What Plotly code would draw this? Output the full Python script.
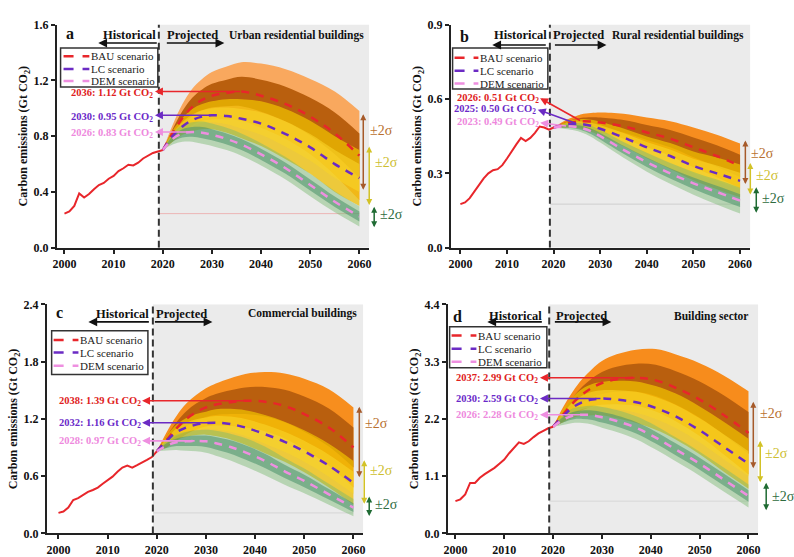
import plotly.graph_objects as go

W, H = 794, 557
SERIF = "Liberation Serif"

# ---------------- data ----------------
hist_years = list(range(2000, 2020))

# Panel a: urban residential buildings
hist_a = [0.245, 0.26, 0.30, 0.39, 0.36, 0.385, 0.42, 0.45, 0.465, 0.495,
          0.515, 0.55, 0.57, 0.595, 0.59, 0.61, 0.64, 0.66, 0.68, 0.69]
yrs_a = [2020, 2022, 2024, 2026, 2028, 2030, 2033, 2036, 2040, 2045, 2050, 2055, 2060]
bau_a = [0.70, 0.82, 0.93, 1.01, 1.06, 1.09, 1.11, 1.12, 1.09, 1.03, 0.94, 0.82, 0.66]
lc_a = [0.70, 0.80, 0.87, 0.915, 0.94, 0.95, 0.945, 0.925, 0.89, 0.815, 0.72, 0.60, 0.50]
dem_a = [0.70, 0.78, 0.82, 0.83, 0.825, 0.81, 0.78, 0.74, 0.67, 0.57, 0.45, 0.33, 0.225]
sd_bau_a = [0, 0.03, 0.05, 0.065, 0.075, 0.085, 0.095, 0.105, 0.115, 0.125, 0.135, 0.15, 0.16]
sd_lc_a = [0, 0.02, 0.03, 0.04, 0.045, 0.05, 0.06, 0.07, 0.08, 0.09, 0.095, 0.10, 0.10]
sd_dem_a = [0, 0.02, 0.03, 0.035, 0.04, 0.04, 0.04, 0.04, 0.04, 0.04, 0.04, 0.038, 0.036]

# Panel b: rural residential buildings
hist_b = [0.176, 0.183, 0.20, 0.228, 0.254, 0.28, 0.30, 0.313, 0.317, 0.333,
          0.36, 0.39, 0.417, 0.443, 0.43, 0.443, 0.463, 0.489, 0.485, 0.476]
yrs_b = [2020, 2023, 2025, 2026, 2028, 2030, 2035, 2040, 2045, 2050, 2055, 2060]
bau_b = [0.485, 0.502, 0.508, 0.51, 0.509, 0.505, 0.49, 0.465, 0.44, 0.405, 0.37, 0.33]
lc_b = [0.485, 0.497, 0.50, 0.499, 0.492, 0.48, 0.445, 0.405, 0.37, 0.33, 0.30, 0.27]
dem_b = [0.485, 0.49, 0.487, 0.483, 0.47, 0.45, 0.395, 0.345, 0.30, 0.26, 0.225, 0.19]
sd_bau_b = [0, 0.008, 0.012, 0.014, 0.017, 0.02, 0.025, 0.03, 0.035, 0.04, 0.043, 0.045]
sd_lc_b = [0, 0.006, 0.009, 0.01, 0.012, 0.014, 0.018, 0.022, 0.026, 0.029, 0.032, 0.033]
sd_dem_b = [0, 0.006, 0.008, 0.009, 0.011, 0.013, 0.016, 0.019, 0.021, 0.023, 0.025, 0.026]

# Panel c: commercial buildings
hist_c = [0.215, 0.23, 0.27, 0.35, 0.37, 0.40, 0.435, 0.455, 0.48, 0.52,
          0.555, 0.595, 0.645, 0.69, 0.71, 0.69, 0.715, 0.74, 0.77, 0.80]
yrs_c = [2020, 2022, 2024, 2026, 2028, 2030, 2032, 2035, 2038, 2042, 2046, 2050, 2055, 2060]
bau_c = [0.86, 0.98, 1.10, 1.20, 1.27, 1.32, 1.35, 1.375, 1.39, 1.38, 1.335, 1.25, 1.11, 0.90]
lc_c = [0.86, 0.97, 1.06, 1.11, 1.14, 1.155, 1.16, 1.145, 1.11, 1.04, 0.96, 0.86, 0.71, 0.53]
dem_c = [0.86, 0.92, 0.955, 0.965, 0.97, 0.965, 0.945, 0.905, 0.85, 0.76, 0.65, 0.55, 0.41, 0.27]
sd_bau_c = [0, 0.04, 0.065, 0.08, 0.09, 0.10, 0.11, 0.125, 0.14, 0.155, 0.17, 0.185, 0.20, 0.21]
sd_lc_c = [0, 0.025, 0.04, 0.05, 0.055, 0.06, 0.07, 0.08, 0.09, 0.10, 0.105, 0.11, 0.115, 0.115]
sd_dem_c = [0, 0.025, 0.04, 0.05, 0.055, 0.06, 0.065, 0.07, 0.075, 0.075, 0.07, 0.065, 0.055, 0.045]

# Panel d: building sector
hist_d = [0.62, 0.655, 0.75, 0.97, 0.97, 1.07, 1.14, 1.20, 1.26, 1.34,
          1.42, 1.54, 1.65, 1.75, 1.72, 1.77, 1.85, 1.92, 1.97, 2.02]
yrs_d = [2020, 2022, 2024, 2026, 2028, 2030, 2033, 2037, 2041, 2045, 2050, 2055, 2060]
bau_d = [2.05, 2.28, 2.50, 2.67, 2.80, 2.89, 2.96, 2.99, 2.94, 2.80, 2.57, 2.27, 1.93]
lc_d = [2.05, 2.25, 2.42, 2.52, 2.57, 2.59, 2.57, 2.52, 2.41, 2.25, 1.98, 1.66, 1.34]
dem_d = [2.05, 2.18, 2.26, 2.28, 2.27, 2.23, 2.16, 2.03, 1.84, 1.62, 1.34, 1.03, 0.72]
sd_bau_d = [0, 0.07, 0.11, 0.15, 0.18, 0.21, 0.24, 0.27, 0.30, 0.32, 0.35, 0.38, 0.40]
sd_lc_d = [0, 0.06, 0.10, 0.13, 0.15, 0.16, 0.18, 0.20, 0.21, 0.22, 0.23, 0.24, 0.24]
sd_dem_d = [0, 0.05, 0.07, 0.08, 0.09, 0.10, 0.105, 0.11, 0.115, 0.115, 0.115, 0.115, 0.11]

scenario_names = ["BAU scenario", "LC scenario", "DEM scenario"]
x_ticks = [2000, 2010, 2020, 2030, 2040, 2050, 2060]

# ---------------- styling ----------------
LINE_COLORS = ["#E8262B", "#6B2BC4", "#EE8FE0"]
LABEL_COLORS = ["#E02020", "#6A28C8", "#EE88DD"]
INNER_FILL = ["#B95F0E", "rgba(248,212,40,0.6)", "rgba(78,148,108,0.58)"]
OUTER_FILL = [None, "rgba(238,190,0,0.75)", "rgba(120,185,110,0.45)"]
GRAY_BG = "#EBEBEB"
SPLIT_YEAR = 2019.2

panels = [
    dict(xa="x", ya="y", hist=hist_a, yrs=yrs_a, cur=[bau_a, lc_a, dem_a],
         sd=[sd_bau_a, sd_lc_a, sd_dem_a], xdom=(53, 368), ydom=(247, 18),
         xr=[1998.4, 2062], yr=[0, 1.6], dt=0.4, bau_outer="#F9A85E", ref="rgba(240,120,120,0.45)",
         legbox=(57, 42, 155, 82), legrows=(50.5, 63.5, 76), legx=(60, 86),
         letter=("a", 60, 27), hist_t=(126.5, 29), hist_ar=(95, 37, 155),
         proj_t=(189.5, 29), proj_ar=(222, 37, 163),
         title=("Urban residential buildings", 365, 29), label_shift=-2,
         heads=[(2018.4, None), (2018.4, None), (2018.4, None)],
         sig=[(362, 110, 187, 367, 127), (368, 143, 203, 372, 160), (373, 205, 227, 377, 213)]),
    dict(xa="x2", ya="y2", hist=hist_b, yrs=yrs_b, cur=[bau_b, lc_b, dem_b],
         sd=[sd_bau_b, sd_lc_b, sd_dem_b], xdom=(450, 752), ydom=(247, 18),
         xr=[1997.9, 2062.2], yr=[0, 0.9], dt=0.3, bau_outer="#F68D1F", ref="rgba(190,190,190,0.6)",
         legbox=(452, 42, 548, 84), legrows=(52, 65.5, 78.5), legx=(454, 478),
         letter=("b", 457, 30), hist_t=(520, 29), hist_ar=(492, 39, 547),
         proj_t=(578.5, 29), proj_ar=(607, 39, 554),
         title=("Rural residential buildings", 748, 29), label_shift=0,
         heads=[(2017.1, 0.603), (2016.6, 0.557), (2017.1, 0.504)],
         sig=[(747, 137, 182, 751, 150), (752, 160, 193, 756, 173), (758, 185, 212, 762, 196)]),
    dict(xa="x3", ya="y3", hist=hist_c, yrs=yrs_c, cur=[bau_c, lc_c, dem_c],
         sd=[sd_bau_c, sd_lc_c, sd_dem_c], xdom=(43, 362), ydom=(540, 305),
         xr=[1997.6, 2062], yr=[0, 2.4], dt=0.6, bau_outer="#F78E1E", ref="rgba(200,200,200,0.6)",
         legbox=(48, 332, 145, 377), legrows=(341.5, 354.5, 368), legx=(50, 75),
         letter=("c", 50, 313), hist_t=(119, 315), hist_ar=(85, 323, 147),
         proj_t=(179, 315), proj_ar=(210, 323, 151),
         title=("Commercial buildings", 358, 314), label_shift=-1,
         heads=[(2017.0, None), (2017.0, None), (2017.0, None)],
         sig=[(358, 410, 482, 362, 427), (363, 465, 510, 367, 475), (368, 502, 523, 372, 510)]),
    dict(xa="x4", ya="y4", hist=hist_d, yrs=yrs_d, cur=[bau_d, lc_d, dem_d],
         sd=[sd_bau_d, sd_lc_d, sd_dem_d], xdom=(447, 760), ydom=(540, 305),
         xr=[1998.4, 2062], yr=[0, 4.4], dt=1.1, bau_outer="#F78C1C", ref="rgba(200,200,200,0.6)",
         legbox=(449, 328, 547, 370), legrows=(337, 350.5, 364), legx=(451, 476),
         letter=("d", 450, 317), hist_t=(515.5, 317), hist_ar=(487, 323, 543),
         proj_t=(581.7, 317), proj_ar=(612, 323, 554),
         title=("Building sector", 752, 317), label_shift=-1,
         heads=[(2017.3, None), (2017.3, None), (2017.3, None)],
         sig=[(755, 405, 473, 760, 417), (762, 445, 488, 765, 458), (768, 488, 517, 772, 502)]),
]

SIG_ARROW = ["#A65A2A", "#D2C226", "#1F6B33"]
SIG_TEXT = ["#B8702E", "#CDBE30", "#2E6B3E"]


def paper(px, py):
    return px / W, 1 - py / H


fig = go.Figure()
shapes, annotations = [], []
layout_axes = {}

for p in panels:
    xa, ya = p["xa"], p["ya"]
    yrs = p["yrs"]
    ymax = p["yr"][1]
    xend = p["xr"][1]

    # projected-period background and split line
    shapes.append(dict(type="rect", xref=xa, yref=ya, x0=SPLIT_YEAR, x1=xend, y0=0, y1=ymax,
                       fillcolor=GRAY_BG, line=dict(width=0), layer="below"))
    shapes.append(dict(type="line", xref=xa, yref=ya, x0=SPLIT_YEAR, x1=SPLIT_YEAR, y0=0, y1=ymax,
                       line=dict(color="#333333", width=2, dash="7px,4px"), layer="above"))

    # faint reference level at the 2000 value
    fig.add_trace(go.Scatter(x=[SPLIT_YEAR, 2060], y=[p["hist"][0]] * 2, mode="lines",
                             line=dict(color=p["ref"], width=1), xaxis=xa, yaxis=ya,
                             showlegend=False, hoverinfo="skip"))

    # uncertainty bands: +-2 sigma (outer) and +-1 sigma (inner) per scenario
    for k in range(3):
        cur, sd = p["cur"][k], p["sd"][k]
        for mult, color in ((2, OUTER_FILL[k] or p["bau_outer"]), (1, INNER_FILL[k])):
            lo = [c - mult * s for c, s in zip(cur, sd)]
            hi = [c + mult * s for c, s in zip(cur, sd)]
            fig.add_trace(go.Scatter(x=yrs, y=lo, mode="lines", line=dict(width=0, shape="spline"),
                                     xaxis=xa, yaxis=ya, showlegend=False, hoverinfo="skip"))
            fig.add_trace(go.Scatter(x=yrs, y=hi, mode="lines", line=dict(width=0, shape="spline"),
                                     fill="tonexty", fillcolor=color,
                                     xaxis=xa, yaxis=ya, showlegend=False, hoverinfo="skip"))

    # scenario central paths
    for k in range(3):
        fig.add_trace(go.Scatter(x=yrs, y=p["cur"][k], mode="lines", name=scenario_names[k],
                                 line=dict(color=LINE_COLORS[k], width=2.5, dash="8px,7px", shape="spline"),
                                 xaxis=xa, yaxis=ya, showlegend=False))

    # historical emissions
    fig.add_trace(go.Scatter(x=hist_years + [yrs[0]], y=p["hist"] + [p["cur"][0][0]], mode="lines",
                             line=dict(color="#E8262B", width=2), xaxis=xa, yaxis=ya,
                             showlegend=False, hoverinfo="skip"))

    # peak labels with arrows pointing back to the text
    for k in range(3):
        cur = p["cur"][k]
        iv = max(range(len(cur)), key=lambda i: cur[i])
        pk_year, pk_val = yrs[iv], cur[iv]
        hx, hy = p["heads"][k]
        if hy is None:
            hy = pk_val
        annotations.append(dict(x=hx, y=hy, xref=xa, yref=ya, ax=pk_year, ay=pk_val,
                                axref=xa, ayref=ya, text="", showarrow=True, arrowhead=2,
                                arrowsize=1, arrowwidth=1.6, arrowcolor=LINE_COLORS[k], standoff=0))
        annotations.append(dict(x=hx - 0.1, y=hy, xref=xa, yref=ya, showarrow=False,
                                xanchor="right", yanchor="middle", borderpad=0,
                                yshift=p["label_shift"],
                                text=f"{pk_year}: {pk_val:.2f} Gt CO<sub>2</sub>",
                                font=dict(family=SERIF, size=10.5, color=LABEL_COLORS[k], weight="bold")))

    # legend box drawn in paper space
    bx0, by0, bx1, by1 = p["legbox"]
    px0, py0 = paper(bx0, by0)
    px1, py1 = paper(bx1, by1)
    shapes.append(dict(type="rect", xref="paper", yref="paper", x0=px0, x1=px1, y0=py1, y1=py0,
                       line=dict(color="#333", width=1.5), fillcolor="rgba(255,255,255,0)",
                       layer="above"))
    sx0, sx1 = p["legx"]
    for k, ry in enumerate(p["legrows"]):
        qx0, qy = paper(sx0, ry)
        qx1, _ = paper(sx1, ry)
        shapes.append(dict(type="line", xref="paper", yref="paper", x0=qx0, x1=qx1, y0=qy, y1=qy,
                           line=dict(color=LINE_COLORS[k], width=2.5, dash="10px,9px"),
                           layer="above"))
        tx, ty = paper(sx1 + 1, ry)
        annotations.append(dict(x=tx, y=ty, xref="paper", yref="paper", text=scenario_names[k],
                                showarrow=False, xanchor="left", yanchor="middle", borderpad=0,
                                font=dict(family=SERIF, size=11, color="#222")))

    # panel letter, period labels, panel title
    lt, lx, ly = p["letter"]
    x0, y0 = paper(lx, ly)
    annotations.append(dict(x=x0, y=y0, xref="paper", yref="paper", text=lt, showarrow=False,
                            xanchor="left", yanchor="middle",
                            font=dict(family=SERIF, size=16, color="#111", weight="bold")))
    for txt, (tx, ty) in (("Historical", p["hist_t"]), ("Projected", p["proj_t"])):
        x0, y0 = paper(tx, ty)
        annotations.append(dict(x=x0, y=y0, xref="paper", yref="paper", text=txt, showarrow=False,
                                xanchor="center", yanchor="middle",
                                font=dict(family=SERIF, size=12.5, color="#111", weight="bold")))
    for hx_px, y_px, tx_px in (p["hist_ar"], p["proj_ar"]):
        x0, y0 = paper(hx_px, y_px)
        annotations.append(dict(x=x0, y=y0, xref="paper", yref="paper", ax=tx_px - hx_px, ay=0,
                                text="", showarrow=True, arrowhead=2, arrowsize=1.1,
                                arrowwidth=1.6, arrowcolor="#111", standoff=0))
    tt, tx, ty = p["title"]
    x0, y0 = paper(tx, ty)
    annotations.append(dict(x=x0, y=y0, xref="paper", yref="paper", text=tt, showarrow=False,
                            xanchor="right", yanchor="middle",
                            font=dict(family=SERIF, size=11.5, color="#111", weight="bold")))

    # +-2 sigma range markers
    for k, (axp, ytop, ybot, lxp, lyp) in enumerate(p["sig"]):
        x0, y0 = paper(axp, ytop)
        annotations.append(dict(x=x0, y=y0, xref="paper", yref="paper", ax=0, ay=ybot - ytop,
                                text="", showarrow=True, arrowhead=2, arrowsize=0.8,
                                arrowside="end+start", arrowwidth=1.5, arrowcolor=SIG_ARROW[k],
                                standoff=0, startstandoff=0))
        x0, y0 = paper(lxp, lyp)
        annotations.append(dict(x=x0, y=y0, xref="paper", yref="paper", text="±2σ", showarrow=False,
                                xanchor="left", yanchor="middle",
                                font=dict(family=SERIF, size=14, color=SIG_TEXT[k])))

    # axes
    xl, xr_ = p["xdom"]
    yb, yt = p["ydom"]
    axis_font = dict(family=SERIF, size=12, color="#111", weight="bold")
    xkey = "xaxis" + xa[1:]
    ykey = "yaxis" + ya[1:]
    layout_axes[xkey] = dict(domain=[xl / W, xr_ / W], anchor=ya, range=p["xr"],
                             tickvals=x_ticks, showline=True, linecolor="#222", linewidth=1.5,
                             ticks="outside", ticklen=4, tickwidth=1.5, tickcolor="#222",
                             showgrid=False, zeroline=False, tickfont=axis_font)
    n = int(round(ymax / p["dt"]))
    layout_axes[ykey] = dict(domain=[1 - yb / H, 1 - yt / H], anchor=xa, range=p["yr"],
                             tickvals=[round(i * p["dt"], 2) for i in range(n + 1)],
                             tickformat=".1f", showline=True, linecolor="#222", linewidth=1.5,
                             ticks="outside", ticklen=4, tickwidth=1.5, tickcolor="#222",
                             showgrid=False, zeroline=False, tickfont=axis_font,
                             title=dict(text="Carbon emissions (Gt CO<sub>2</sub>)", standoff=3,
                                        font=dict(family=SERIF, size=12, color="#111", weight="bold")))

fig.update_layout(width=W, height=H, margin=dict(l=0, r=0, t=0, b=0), autosize=False,
                  plot_bgcolor="white", paper_bgcolor="white", showlegend=False,
                  shapes=shapes, annotations=annotations, **layout_axes)

fig.write_html("out.html")
